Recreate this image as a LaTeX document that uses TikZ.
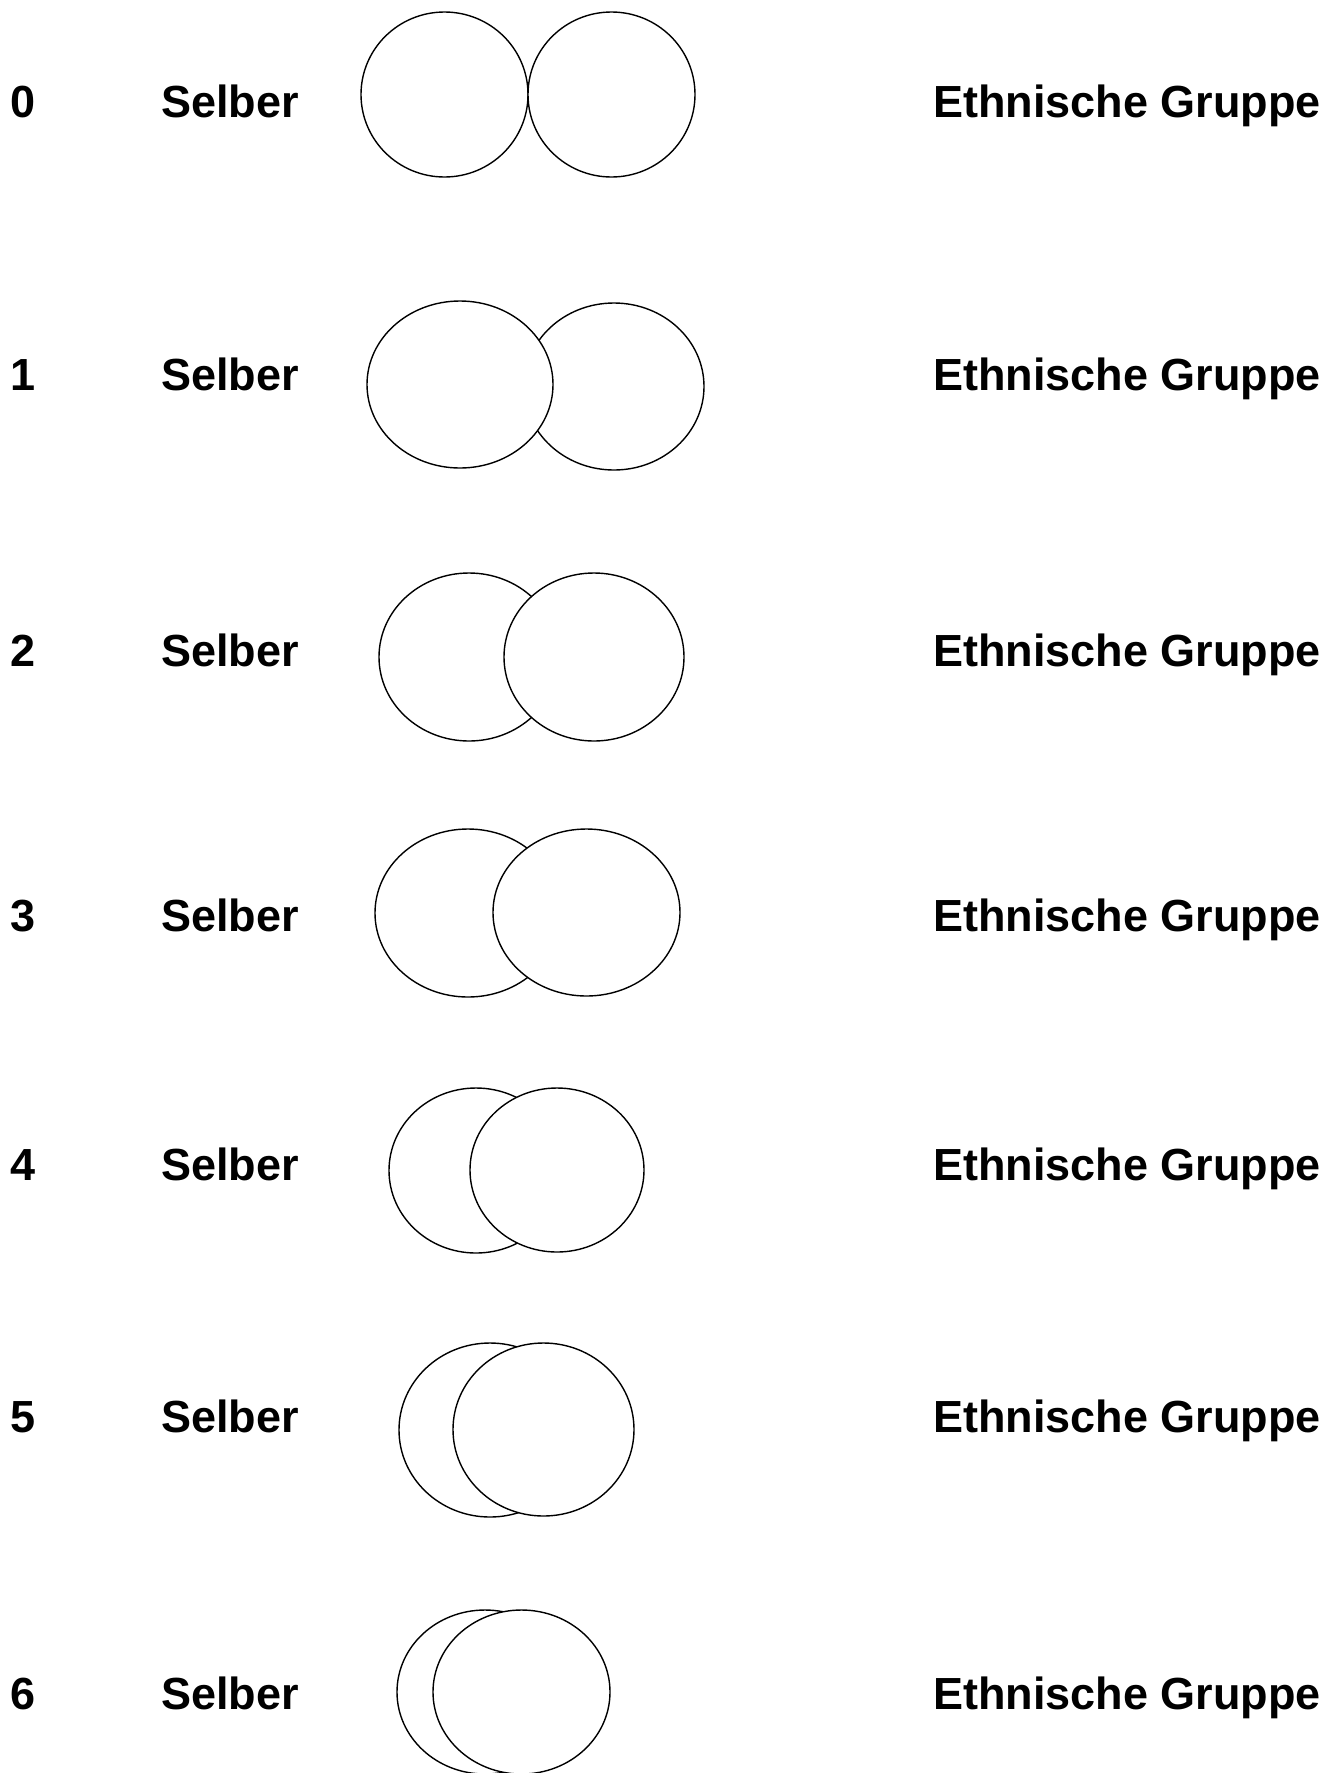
\documentclass[tikz,border=0pt]{standalone}
\usepackage{fontspec}
\setmainfont{Liberation Sans}
\begin{document}
\begin{tikzpicture}[x=1pt,y=-1pt,
  lbl/.style={anchor=base west,inner sep=0pt,font=\fontsize{45}{50}\selectfont\bfseries},
  ring/.style={draw=black,fill=white,line width=1.4pt}]
\useasboundingbox (0,0) rectangle (1338,1773);
% rows: baseline y
\foreach \i/\b in {0/117,1/390,2/666,3/931,4/1180,5/1432,6/1709}{
  \node[lbl] (n\i) at (10,\b) {\i};
  \node[lbl] (s\i) at (161,\b) {Selber};
  \node[lbl] (e\i) at (933,\b) {Ethnische Gruppe};
}
% row 0
\draw[ring] (444.5,94.5) ellipse [x radius=83.5,y radius=82.5];
\draw[ring] (611.5,94.5) ellipse [x radius=83.5,y radius=82.5];
% row 1 (left in front)
\draw[ring] (614,386.5) ellipse [x radius=90,y radius=83.5];
\draw[ring] (460,384.5) ellipse [x radius=93,y radius=83.5];
% row 2
\draw[ring] (469,657) ellipse [x radius=90,y radius=84];
\draw[ring] (594,657) ellipse [x radius=90,y radius=84];
% row 3
\draw[ring] (468,913) ellipse [x radius=93,y radius=84];
\draw[ring] (586.5,912.5) ellipse [x radius=93.5,y radius=83.5];
% row 4
\draw[ring] (476,1170.5) ellipse [x radius=87,y radius=82.5];
\draw[ring] (557,1170) ellipse [x radius=87,y radius=82];
% row 5
\draw[ring] (490,1430) ellipse [x radius=91,y radius=87];
\draw[ring] (543.5,1429.5) ellipse [x radius=90.5,y radius=86.5];
% row 6
\draw[ring] (485,1692) ellipse [x radius=88,y radius=82];
\draw[ring] (521.5,1692) ellipse [x radius=88.5,y radius=82];
\end{tikzpicture}
\end{document}
